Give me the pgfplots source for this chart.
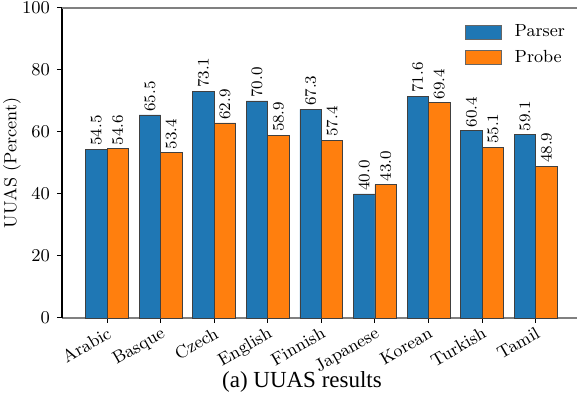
\documentclass[border=0pt]{standalone}
\usepackage{fontspec}
\usepackage{pgfplots}
\pgfplotsset{compat=1.18}
\usetikzlibrary{calc}
\newfontfamily\capfont{Liberation Serif}
\definecolor{cparser}{HTML}{1F77B4}
\definecolor{cprobe}{HTML}{FF7F0E}

\pgfplotsset{
  patchlegend/.style={legend image code/.code={
    \draw[##1, draw=black!60, line width=0.4pt] (0pt,-3.5pt) rectangle (18pt,3.5pt);
    \path (22.5pt,0pt);}},
}

\begin{document}
\begin{tikzpicture}
\begin{axis}[
  name=ax,
  scale only axis,
  width=257.5pt, height=155pt,
  xmin=-0.84, xmax=8.77,
  ymin=0, ymax=100,
  ybar, bar width=0.4,
  axis x line*=bottom, axis y line*=left,
  x axis line style={black!50, line width=0.8pt},
  y axis line style={black, line width=0.6pt},
  xtick={0,...,8},
  xticklabels={Arabic,Basque,Czech,English,Finnish,Japanese,Korean,Turkish,Tamil},
  ytick={0,20,40,60,80,100},
  tick align=outside,
  major tick length=2.5pt,
  tick style={black, line width=0.5pt},
  tick label style={font=\fontsize{8.8}{10}\selectfont},
  x tick label style={rotate=30, anchor=north east, inner sep=1pt},
  ylabel={UUAS (Percent)},
  every axis y label/.style={at={(rel axis cs:-0.097,0.5)}, rotate=90, anchor=center,
    font=\fontsize{8.8}{10}\selectfont},
  legend style={draw=none, fill=none, anchor=north east, at={(0.985,0.96)},
    font=\fontsize{8.8}{10}\selectfont, row sep=1pt, inner sep=0pt},
  legend cell align=left,
  nodes near coords,
  point meta=y,
  nodes near coords style={rotate=90, anchor=west, inner sep=1.5pt,
    font=\fontsize{8.5}{10}\selectfont,
    /pgf/number format/.cd, fixed, fixed zerofill, precision=1},
  clip=false,
]
\addplot[bar shift=-0.2, fill=cparser, draw=black!75,
  line width=0.4pt, patchlegend] coordinates {
  (0,54.5) (1,65.5) (2,73.1) (3,70.0) (4,67.3) (5,40.0) (6,71.6) (7,60.4) (8,59.1)
};
\addlegendentry{Parser}
\addplot[bar shift=0.2, fill=cprobe, draw=black!75,
  line width=0.4pt, patchlegend] coordinates {
  (0,54.6) (1,53.4) (2,62.9) (3,58.9) (4,57.4) (5,43.0) (6,69.4) (7,55.1) (8,48.9)
};
\addlegendentry{Probe}
\draw[black!50, line width=0.8pt] (rel axis cs:0,1) -- (rel axis cs:1,1);
\end{axis}
\pgfresetboundingbox
\path[use as bounding box] ($(ax.south west)+(-31pt,-43.5pt)$) rectangle ($(ax.north east)+(0pt,4pt)$);
\node[font=\capfont\fontsize{11.5}{13}\selectfont] at ($(ax.south west)+(120pt,-32pt)$) {(a) UUAS results};
\end{tikzpicture}
\end{document}
